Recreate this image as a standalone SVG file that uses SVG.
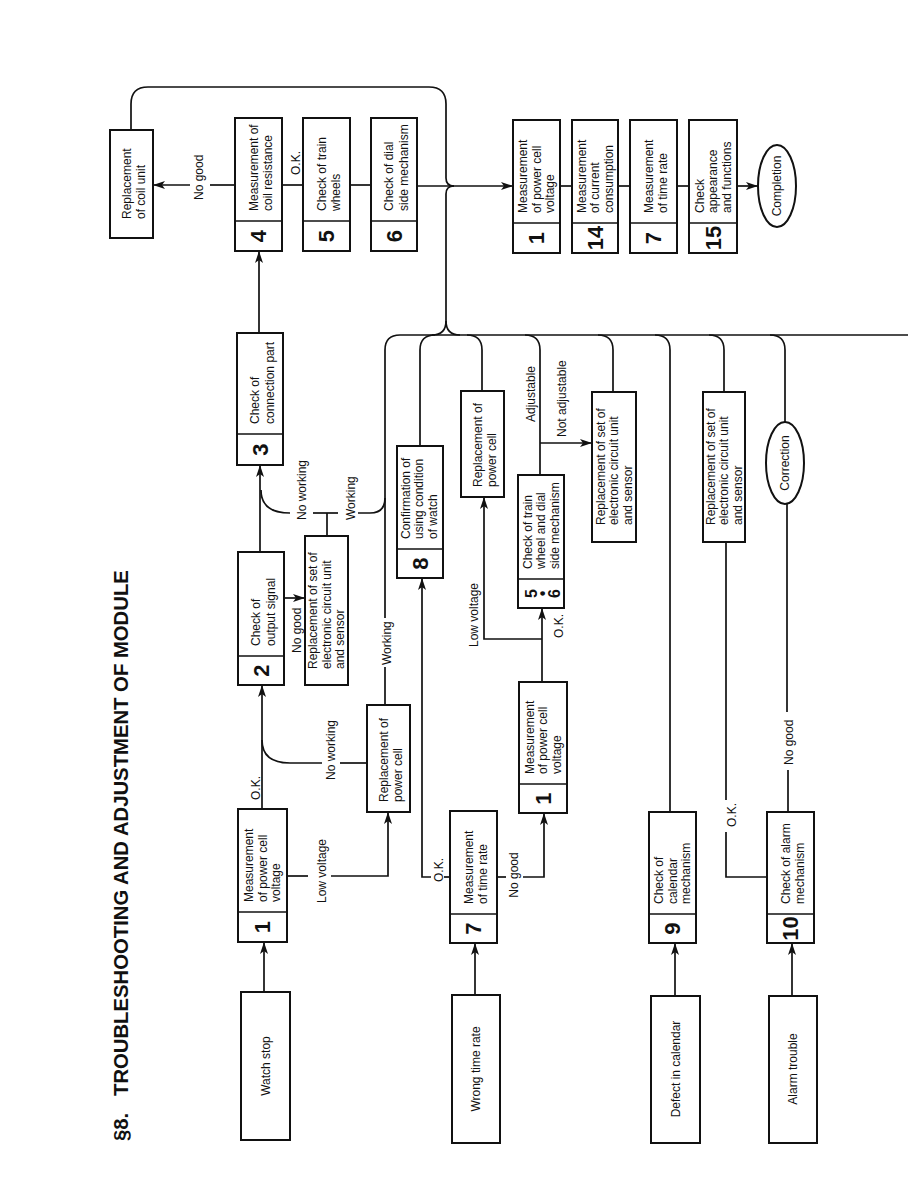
<svg xmlns="http://www.w3.org/2000/svg" width="918" height="1188" viewBox="0 0 918 1188">
<style>
.box{fill:#fff;stroke:#111;stroke-width:2}
.dv{stroke:#111;stroke-width:1.6}
.ln{fill:none;stroke:#111;stroke-width:1.7}
.t{font-family:"Liberation Sans",Arial,sans-serif;font-size:12px;fill:#111}
.n{font-family:"Liberation Sans",Arial,sans-serif;font-size:22px;font-weight:bold;fill:#111;text-anchor:middle}
.m{text-anchor:middle}
.title{font-family:"Liberation Sans",Arial,sans-serif;font-size:20.3px;font-weight:bold;fill:#111}
</style>
<defs>
<marker id="ah" viewBox="0 0 12 8" refX="12" refY="4" markerWidth="12" markerHeight="8" markerUnits="userSpaceOnUse" orient="auto">
<path d="M0,0 L12,4 L0,8 L3,4 z" fill="#111"/>
</marker>
</defs>
<rect width="918" height="1188" fill="#fff"/>

<g id="title">
<text class="title" transform="translate(128,1141) rotate(-90)">§8.</text>
<text class="title" transform="translate(128,1096) rotate(-90)">TROUBLESHOOTING AND ADJUSTMENT OF MODULE</text>
</g>

<g id="connectors">
<path class="ln" d="M131 130 V104 Q131 87 148 87 H429 Q446 87 446 104 V178 Q446 186 454 186"/>
<path class="ln" d="M417 186 H513" marker-end="url(#ah)"/>
<path class="ln" d="M446 327 V194 Q446 186 454 186"/>
<path class="ln" d="M432 335 Q446 335 446 321 Q446 335 460 335"/>
<path class="ln" d="M400 335 H908"/>
<path class="ln" d="M400 335 Q385 335 385 350 V618"/>
<path class="ln" d="M385 667 V705"/>
<path class="ln" d="M358 513 H370 Q385 513 385 498"/>
<path class="ln" d="M435 335 Q420 335 420 350 V446"/>
<path class="ln" d="M467 335 Q482 335 482 350 V391"/>
<path class="ln" d="M525 335 Q540 335 540 350 V475"/>
<path class="ln" d="M540 443 H592" marker-end="url(#ah)"/>
<path class="ln" d="M598 335 Q613 335 613 350 V392"/>
<path class="ln" d="M655 335 Q670 335 670 350 V812"/>
<path class="ln" d="M709 335 Q724 335 724 350 V392"/>
<path class="ln" d="M770 335 Q785 335 785 350 V422"/>
<path class="ln" d="M787 504 V712"/>
<path class="ln" d="M788 770 V812"/>
<path class="ln" d="M726 542 V800"/>
<path class="ln" d="M726 832 V877 H767"/>
<path class="ln" d="M235 185 H210"/>
<path class="ln" d="M190 185 H153" marker-end="url(#ah)"/>
<path class="ln" d="M282 185 H303"/>
<path class="ln" d="M350 185 H371"/>
<path class="ln" d="M259 333 V251" marker-end="url(#ah)"/>
<path class="ln" d="M260 552 V465" marker-end="url(#ah)"/>
<path class="ln" d="M290 513 Q261 513 261 490"/>
<path class="ln" d="M313 513 H338"/>
<path class="ln" d="M327 513 V536"/>
<path class="ln" d="M284 598 H305" marker-end="url(#ah)"/>
<path class="ln" d="M262 809 V685" marker-end="url(#ah)"/>
<path class="ln" d="M367 763 H340"/>
<path class="ln" d="M322 763 H290 Q262 763 262 740"/>
<path class="ln" d="M287 876 H308"/>
<path class="ln" d="M331 876 H388 V812" marker-end="url(#ah)"/>
<path class="ln" d="M264 992 V942" marker-end="url(#ah)"/>
<path class="ln" d="M475 995 V943" marker-end="url(#ah)"/>
<path class="ln" d="M450 877 H444"/>
<path class="ln" d="M431 877 H422 V578" marker-end="url(#ah)"/>
<path class="ln" d="M497 877 H506"/>
<path class="ln" d="M523 877 H544 V813" marker-end="url(#ah)"/>
<path class="ln" d="M542 682 V608" marker-end="url(#ah)"/>
<path class="ln" d="M542 639 H484 V497" marker-end="url(#ah)"/>
<path class="ln" d="M675 996 V943" marker-end="url(#ah)"/>
<path class="ln" d="M792 996 V943" marker-end="url(#ah)"/>
<path class="ln" d="M560 186 H572"/>
<path class="ln" d="M618 186 H630"/>
<path class="ln" d="M677 186 H689"/>
<path class="ln" d="M737 186 H758" marker-end="url(#ah)"/>
</g>

<g id="labels">
<text class="t" transform="translate(203,200) rotate(-90)">No good</text>
<text class="t" transform="translate(300,175) rotate(-90)">O.K.</text>
<text class="t" transform="translate(260,800) rotate(-90)">O.K.</text>
<text class="t" transform="translate(335,780) rotate(-90)">No working</text>
<text class="t" transform="translate(326,903) rotate(-90)">Low voltage</text>
<text class="t" transform="translate(391,665) rotate(-90)">Working</text>
<text class="t" transform="translate(301,653) rotate(-90)">No good</text>
<text class="t" transform="translate(306,520) rotate(-90)">No working</text>
<text class="t" transform="translate(355,520) rotate(-90)">Working</text>
<text class="t m" transform="translate(443,870) rotate(-90)">O.K.</text>
<text class="t m" transform="translate(518,875) rotate(-90)">No good</text>
<text class="t" transform="translate(478,647) rotate(-90)">Low voltage</text>
<text class="t" transform="translate(563,638) rotate(-90)">O.K.</text>
<text class="t" transform="translate(535,422) rotate(-90)">Adjustable</text>
<text class="t" transform="translate(566,437) rotate(-90)">Not adjustable</text>
<text class="t" transform="translate(736,827) rotate(-90)">O.K.</text>
<text class="t" transform="translate(793,765) rotate(-90)">No good</text>
</g>

<g id="n-coil">
<rect class="box" x="110" y="130" width="43" height="108"/>
<text class="t" transform="translate(130.75,219) rotate(-90)"><tspan x="0" y="0">Replacement</tspan><tspan x="0" y="14.5">of coil unit</tspan></text>
</g>
<g id="n4">
<rect class="box" x="235" y="118" width="47" height="133"/>
<line class="dv" x1="235" y1="221" x2="282" y2="221"/>
<text class="t" transform="translate(257.75,211) rotate(-90)"><tspan x="0" y="0">Measurement of</tspan><tspan x="0" y="14.5">coil resistance</tspan></text>
<text class="n" transform="translate(266.4,236) rotate(-90)">4</text>
</g>
<g id="n5">
<rect class="box" x="303" y="118" width="47" height="133"/>
<line class="dv" x1="303" y1="221" x2="350" y2="221"/>
<text class="t" transform="translate(325.75,211) rotate(-90)"><tspan x="0" y="0">Check of train</tspan><tspan x="0" y="14.5">wheels</tspan></text>
<text class="n" transform="translate(334.4,236) rotate(-90)">5</text>
</g>
<g id="n6">
<rect class="box" x="371" y="118" width="46" height="133"/>
<line class="dv" x1="371" y1="221" x2="417" y2="221"/>
<text class="t" transform="translate(393.25,211) rotate(-90)"><tspan x="0" y="0">Check of dial</tspan><tspan x="0" y="14.5">side mechanism</tspan></text>
<text class="n" transform="translate(401.9,236) rotate(-90)">6</text>
</g>
<g id="n3">
<rect class="box" x="237" y="333" width="46" height="132"/>
<line class="dv" x1="237" y1="434" x2="283" y2="434"/>
<text class="t" transform="translate(259.25,424) rotate(-90)"><tspan x="0" y="0">Check of</tspan><tspan x="0" y="14.5">connection part</tspan></text>
<text class="n" transform="translate(267.9,449.5) rotate(-90)">3</text>
</g>
<g id="n2">
<rect class="box" x="238" y="552" width="46" height="133"/>
<line class="dv" x1="238" y1="656" x2="284" y2="656"/>
<text class="t" transform="translate(260.25,646) rotate(-90)"><tspan x="0" y="0">Check of</tspan><tspan x="0" y="14.5">output signal</tspan></text>
<text class="n" transform="translate(268.9,670.5) rotate(-90)">2</text>
</g>
<g id="n-repl-set-1">
<rect class="box" x="305" y="536" width="43" height="149"/>
<text class="t" transform="translate(317,669) rotate(-90)"><tspan x="0" y="0">Replacement of set of</tspan><tspan x="0" y="13.5">electronic circuit unit</tspan><tspan x="0" y="27">and sensor</tspan></text>
</g>
<g id="n-repl-cell-1">
<rect class="box" x="367" y="705" width="43" height="107"/>
<text class="t" transform="translate(387.75,802) rotate(-90)"><tspan x="0" y="0">Replacement of</tspan><tspan x="0" y="14.5">power cell</tspan></text>
</g>
<g id="n1">
<rect class="box" x="238" y="809" width="49" height="133"/>
<line class="dv" x1="238" y1="912" x2="287" y2="912"/>
<text class="t" transform="translate(253,902) rotate(-90)"><tspan x="0" y="0">Measurement</tspan><tspan x="0" y="13.5">of power cell</tspan><tspan x="0" y="27">voltage</tspan></text>
<text class="n" transform="translate(270.4,927) rotate(-90)">1</text>
</g>
<g id="n-watch-stop">
<rect class="box" x="241" y="992" width="49" height="148"/>
<text class="t m" transform="translate(270,1066) rotate(-90)">Watch stop</text>
</g>
<g id="n8">
<rect class="box" x="397" y="446" width="46" height="132"/>
<line class="dv" x1="397" y1="549" x2="443" y2="549"/>
<text class="t" transform="translate(409.5,539) rotate(-90)"><tspan x="0" y="0">Confirmation of</tspan><tspan x="0" y="13.5">using condition</tspan><tspan x="0" y="27">of watch</tspan></text>
<text class="n" transform="translate(427.9,563.5) rotate(-90)">8</text>
</g>
<g id="n-repl-cell-2">
<rect class="box" x="461" y="391" width="43" height="106"/>
<text class="t" transform="translate(481.75,487) rotate(-90)"><tspan x="0" y="0">Replacement of</tspan><tspan x="0" y="14.5">power cell</tspan></text>
</g>
<g id="n56">
<rect class="box" x="518" y="475" width="46" height="133"/>
<line class="dv" x1="518" y1="579" x2="564" y2="579"/>
<text class="t" transform="translate(531.5,569) rotate(-90)"><tspan x="0" y="0">Check of train</tspan><tspan x="0" y="13.5">wheel and dial</tspan><tspan x="0" y="27">side mechanism</tspan></text>
<text class="n" style="font-size:16px" transform="translate(537,593.5) rotate(-90)">5</text>
<text class="n" style="font-size:16px" transform="translate(548,593.5) rotate(-90)">•</text>
<text class="n" style="font-size:16px" transform="translate(560,593.5) rotate(-90)">6</text>
</g>
<g id="n-repl-set-2">
<rect class="box" x="592" y="392" width="44" height="150"/>
<text class="t" transform="translate(604.5,525) rotate(-90)"><tspan x="0" y="0">Replacement of set of</tspan><tspan x="0" y="13.5">electronic circuit unit</tspan><tspan x="0" y="27">and sensor</tspan></text>
</g>
<g id="n1b">
<rect class="box" x="519" y="682" width="48" height="131"/>
<line class="dv" x1="519" y1="784" x2="567" y2="784"/>
<text class="t" transform="translate(533.5,774) rotate(-90)"><tspan x="0" y="0">Measurement</tspan><tspan x="0" y="13.5">of power cell</tspan><tspan x="0" y="27">voltage</tspan></text>
<text class="n" transform="translate(550.9,798.5) rotate(-90)">1</text>
</g>
<g id="n7">
<rect class="box" x="450" y="811" width="47" height="132"/>
<line class="dv" x1="450" y1="914" x2="497" y2="914"/>
<text class="t" transform="translate(472.75,904) rotate(-90)"><tspan x="0" y="0">Measurement</tspan><tspan x="0" y="14.5">of time rate</tspan></text>
<text class="n" transform="translate(481.4,928.5) rotate(-90)">7</text>
</g>
<g id="n-wrong-time">
<rect class="box" x="452" y="995" width="48" height="148"/>
<text class="t m" transform="translate(480,1069) rotate(-90)">Wrong time rate</text>
</g>
<g id="n-repl-set-3">
<rect class="box" x="703" y="392" width="42" height="150"/>
<text class="t" transform="translate(714.5,525) rotate(-90)"><tspan x="0" y="0">Replacement of set of</tspan><tspan x="0" y="13.5">electronic circuit unit</tspan><tspan x="0" y="27">and sensor</tspan></text>
</g>
<g id="n-correction">
<ellipse class="box" cx="785" cy="463" rx="19" ry="41"/>
<text class="t m" transform="translate(789.3,463) rotate(-90)">Correction</text>
</g>
<g id="n9">
<rect class="box" x="649" y="812" width="47" height="131"/>
<line class="dv" x1="649" y1="914" x2="696" y2="914"/>
<text class="t" transform="translate(663,904) rotate(-90)"><tspan x="0" y="0">Check of</tspan><tspan x="0" y="13.5">calendar</tspan><tspan x="0" y="27">mechanism</tspan></text>
<text class="n" transform="translate(680.4,928.5) rotate(-90)">9</text>
</g>
<g id="n10">
<rect class="box" x="767" y="812" width="47" height="131"/>
<line class="dv" x1="767" y1="914" x2="814" y2="914"/>
<text class="t" transform="translate(789.75,904) rotate(-90)"><tspan x="0" y="0">Check of alarm</tspan><tspan x="0" y="14.5">mechanism</tspan></text>
<text class="n" transform="translate(798.4,928.5) rotate(-90)">10</text>
</g>
<g id="n-defect-calendar">
<rect class="box" x="651" y="996" width="49" height="147"/>
<text class="t m" transform="translate(680,1069) rotate(-90)">Defect in calendar</text>
</g>
<g id="n-alarm-trouble">
<rect class="box" x="769" y="996" width="48" height="147"/>
<text class="t m" transform="translate(797,1069) rotate(-90)">Alarm trouble</text>
</g>
<g id="n1c">
<rect class="box" x="513" y="120" width="47" height="133"/>
<line class="dv" x1="513" y1="223" x2="560" y2="223"/>
<text class="t" transform="translate(527,213) rotate(-90)"><tspan x="0" y="0">Measurement</tspan><tspan x="0" y="13.5">of power cell</tspan><tspan x="0" y="27">voltage</tspan></text>
<text class="n" transform="translate(544.4,238) rotate(-90)">1</text>
</g>
<g id="n14">
<rect class="box" x="572" y="120" width="46" height="133"/>
<line class="dv" x1="572" y1="223" x2="618" y2="223"/>
<text class="t" transform="translate(585.5,213) rotate(-90)"><tspan x="0" y="0">Measurement</tspan><tspan x="0" y="13.5">of current</tspan><tspan x="0" y="27">consumption</tspan></text>
<text class="n" transform="translate(602.9,238) rotate(-90)">14</text>
</g>
<g id="n7b">
<rect class="box" x="630" y="120" width="47" height="133"/>
<line class="dv" x1="630" y1="223" x2="677" y2="223"/>
<text class="t" transform="translate(652.75,213) rotate(-90)"><tspan x="0" y="0">Measurement</tspan><tspan x="0" y="14.5">of time rate</tspan></text>
<text class="n" transform="translate(661.4,238) rotate(-90)">7</text>
</g>
<g id="n15">
<rect class="box" x="689" y="120" width="48" height="133"/>
<line class="dv" x1="689" y1="223" x2="737" y2="223"/>
<text class="t" transform="translate(703.5,213) rotate(-90)"><tspan x="0" y="0">Check</tspan><tspan x="0" y="13.5">appearance</tspan><tspan x="0" y="27">and functions</tspan></text>
<text class="n" transform="translate(720.9,238) rotate(-90)">15</text>
</g>
<g id="n-completion">
<ellipse class="box" cx="777" cy="186" rx="19" ry="41"/>
<text class="t m" transform="translate(781.3,186) rotate(-90)">Completion</text>
</g>
</svg>
